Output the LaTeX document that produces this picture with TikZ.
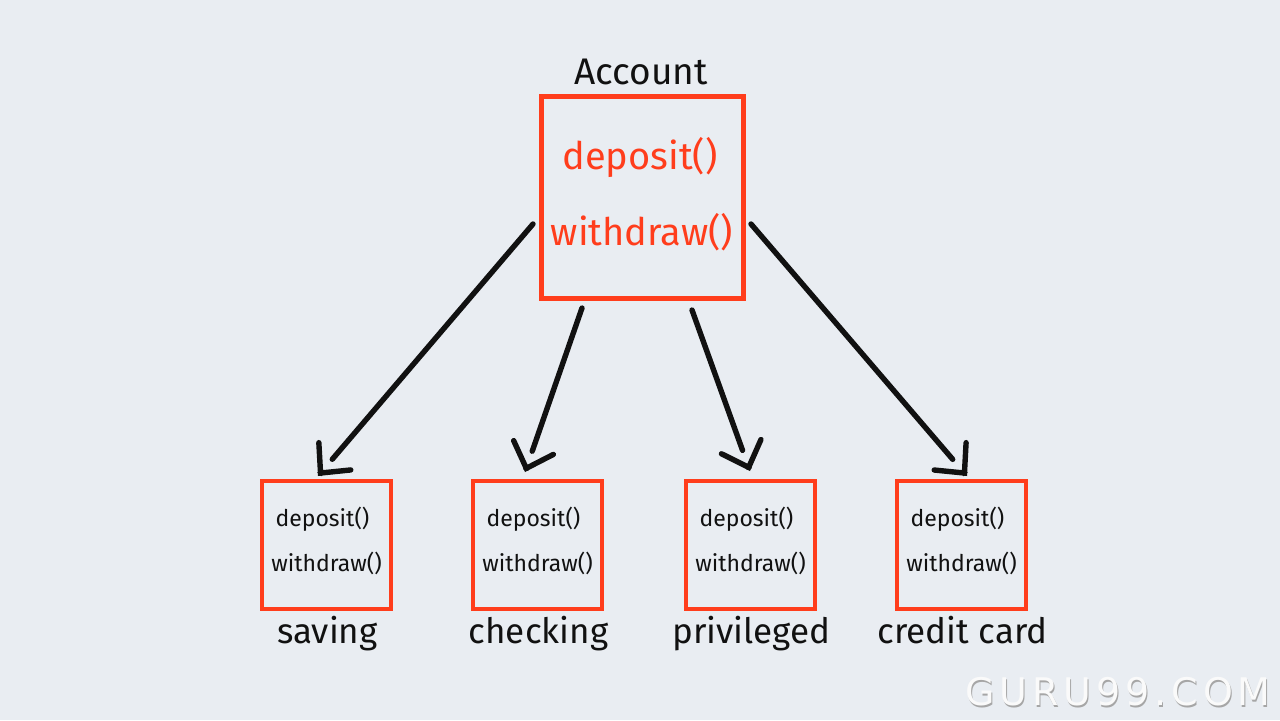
\documentclass[tikz,border=0pt]{standalone}
\usepackage{fontspec}
\setmainfont{Fira Sans}
\newfontfamily\wmfont[LetterSpace=13]{DejaVu Sans}
\usetikzlibrary{arrows.meta,calc}
\definecolor{bg}{HTML}{E9EDF2}
\definecolor{boxred}{HTML}{FF3D1C}
\definecolor{ink}{HTML}{111111}
\tikzset{
  x=0.5pt,y=-0.5pt,
  bigbox/.style={draw=boxred,line width=2.5pt,minimum width=101pt,minimum height=101pt,inner sep=0pt},
  smallbox/.style={draw=boxred,line width=2pt,minimum width=64.5pt,minimum height=64pt,inner sep=0pt},
  bigtext/.style={text=boxred,font=\fontsize{19}{22}\selectfont,inner sep=0pt},
  smalltext/.style={text=ink,font=\fontsize{11.5}{14}\selectfont,inner sep=0pt},
  lbl/.style={text=ink,font=\fontsize{17.5}{21}\selectfont,inner sep=0pt},
  shaft/.style={draw=ink,line width=2.7pt,line cap=round},
  tip/.style={draw=ink,line width=2.7pt,-{Straight Barb[length=11pt,width=21pt,line cap=round,line join=miter]}}
}
\begin{document}
\begin{tikzpicture}
\fill[bg] (0,0) rectangle (1280,720);
\useasboundingbox (0,0) rectangle (1280,720);

% top class
\node[bigbox] (acc) at (642,197) {};
\node[lbl,anchor=base,font=\fontsize{18.5}{22}\selectfont] (acct) at (641,84) {Account};
\node[bigtext] (accd) at (640,157) {deposit()};
\node[bigtext] (accw) at (642,232) {withdraw()};

% subclasses
\foreach \n/\x/\lab in {sav/326.5/saving, chk/537.5/checking, prv/750.5/privileged, crd/961.5/credit card}{
  \node[smallbox] (\n) at (\x,545) {};
  \node[smalltext] (\n d) at (\x-4,519) {deposit()};
  \node[smalltext] (\n w) at (\x,563) {withdraw()};
  \node[lbl,anchor=base] (\n l) at (\x+1,643) {\lab};
}

% arrow endpoints
\coordinate (s1) at (533,224);
\coordinate (t1) at (318,476);
\coordinate (s2) at (582,308);
\coordinate (t2) at (525,472);
\coordinate (s3) at (692,310);
\coordinate (t3) at (750,471);
\coordinate (s4) at (751,224);
\coordinate (t4) at (967,476);

\foreach \s/\t in {s1/t1,s2/t2,s3/t3,s4/t4}{
  \draw[shaft] (\s) -- ($(\t)!11pt!(\s)$);
  \draw[tip] ($(\t)!1pt!(\s)$) -- (\t);
}

% watermark
\node[font=\wmfont\fontsize{19}{22}\selectfont,text=gray!70,anchor=base] (wms) at (1119,707) {GURU99.COM};
\node[font=\wmfont\fontsize{19}{22}\selectfont,text=white!96!gray,anchor=base] (wm) at (1118,705.5) {GURU99.COM};
\end{tikzpicture}
\end{document}
